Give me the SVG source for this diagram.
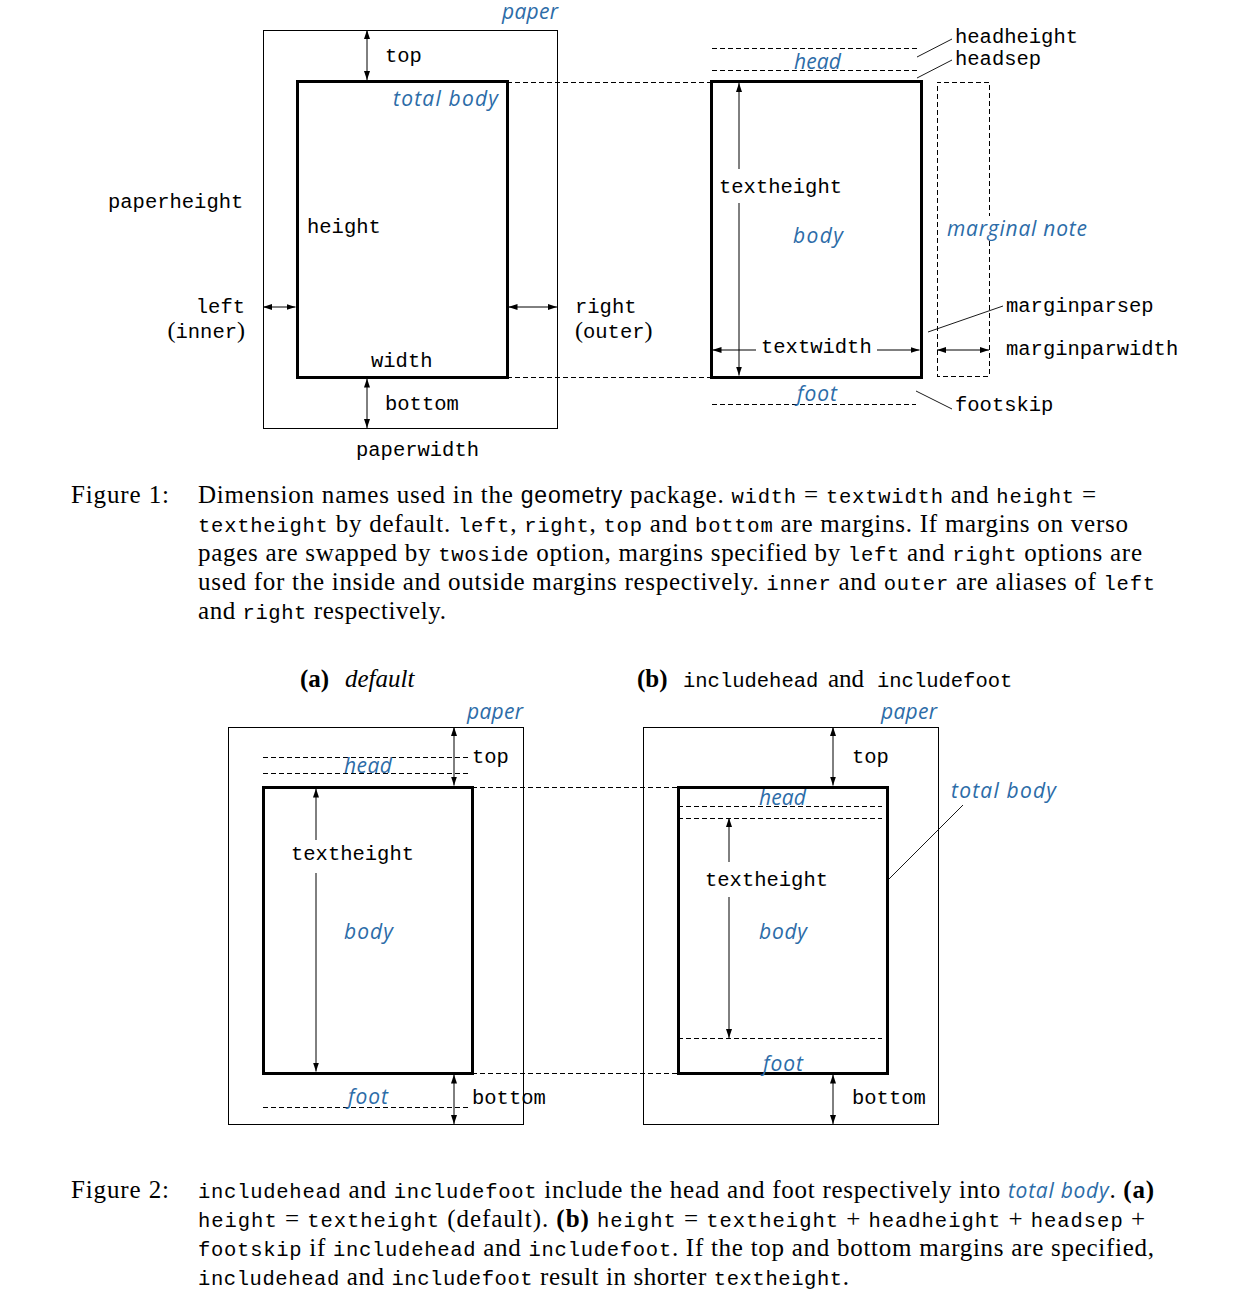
<svg xmlns="http://www.w3.org/2000/svg" width="1235" height="1294" viewBox="0 0 1235 1294">
<style>
.tt{font-family:"Liberation Mono","DejaVu Sans Mono",monospace;font-size:20.5px;fill:#000}
.sr{font-family:"Liberation Serif","DejaVu Serif",serif;font-size:25px;fill:#000}
.sl{font-family:"Liberation Serif","DejaVu Serif",serif;font-size:24px;fill:#000}
.sf{font-family:"Liberation Sans","DejaVu Sans",sans-serif;font-size:23px}
.bl{font-family:"Open Sans","DejaVu Sans",sans-serif;font-style:italic;font-size:21px;fill:#2c6ca8}
.thin{stroke:#000;stroke-width:1;fill:none;shape-rendering:crispEdges}
.thick{stroke:#000;stroke-width:3;fill:none;shape-rendering:crispEdges}
.dash{stroke:#000;stroke-width:1;stroke-dasharray:5 3;fill:none;shape-rendering:crispEdges}
.lead{stroke:#000;stroke-width:0.9;fill:none}
.a1{stroke:#000;stroke-width:1;fill:none;marker-end:url(#ah)}
.a2{stroke:#000;stroke-width:1;fill:none;marker-start:url(#ah);marker-end:url(#ah)}
</style>
<defs>
<marker id="ah" viewBox="0 0 9 6" refX="9" refY="3" markerWidth="9" markerHeight="6" markerUnits="userSpaceOnUse" orient="auto-start-reverse">
<path d="M0,0 L9,3 L0,6 Z" fill="#000"/>
</marker>
</defs>
<rect width="1235" height="1294" fill="#fff"/>

<!-- Figure 1 left -->
<g id="fig1-paper">
<rect class="thin" x="263" y="30" width="294" height="398"/>
<text class="bl" x="502" y="19" textLength="56">paper</text>
<text class="tt" x="108" y="208">paperheight</text>
<text class="tt" x="356" y="456">paperwidth</text>
</g>
<g id="fig1-totalbody">
<rect class="thick" x="297" y="81" width="210" height="296"/>
<text class="bl" x="393" y="106" textLength="105">total body</text>
<text class="tt" x="307" y="233">height</text>
<text class="tt" x="371" y="367">width</text>
</g>
<g id="fig1-margins">
<text class="tt" x="385" y="62">top</text>
<text class="tt" x="385" y="410">bottom</text>
<text class="tt" x="245" y="313" text-anchor="end">left</text>
<text class="sl" x="245" y="338" text-anchor="end">(<tspan class="tt">inner</tspan>)</text>
<text class="tt" x="575" y="313">right</text>
<text class="sl" x="575" y="338">(<tspan class="tt">outer</tspan>)</text>
</g>

<!-- Figure 1 right -->
<g id="fig1-body">
<rect class="thick" x="711" y="81" width="210" height="296"/>
<text class="bl" x="793" y="243" textLength="50">body</text>
<text class="tt" x="719" y="193">textheight</text>
<text class="tt" x="761" y="353">textwidth</text>
</g>
<g id="fig1-head">
<path class="dash" d="M712,48 H917 M712,70 H917"/>
<text class="bl" x="794" y="69" textLength="47">head</text>
<text class="tt" x="955" y="43">headheight</text>
<text class="tt" x="955" y="65">headsep</text>
</g>
<g id="fig1-foot">
<path class="dash" d="M712,404 H916"/>
<text class="bl" x="797" y="401" textLength="40">foot</text>
<text class="tt" x="955" y="411">footskip</text>
</g>
<g id="fig1-marginal">
<path class="dash" d="M989,241 V376 H937 V82 H989 V216"/>
<text class="bl" x="947" y="236" textLength="140">marginal note</text>
<text class="tt" x="1006" y="312">marginparsep</text>
<text class="tt" x="1006" y="355">marginparwidth</text>
</g>

<!-- Figure 2a -->
<g id="fig2a-label">
<text class="sr" x="300" y="687"><tspan font-weight="bold">(a)</tspan><tspan x="345" font-style="italic">default</tspan></text>
</g>
<g id="fig2a-paper">
<rect class="thin" x="228" y="727" width="295" height="397"/>
<text class="bl" x="467" y="719" textLength="56">paper</text>
<text class="tt" x="472" y="763">top</text>
<text class="tt" x="472" y="1104">bottom</text>
</g>
<g id="fig2a-body">
<rect class="thick" x="263" y="787" width="209" height="286"/>
<text class="bl" x="344" y="939" textLength="49">body</text>
<text class="tt" x="291" y="860">textheight</text>
</g>
<g id="fig2a-head">
<path class="dash" d="M263,757 H468 M263,773 H468"/>
<text class="bl" x="344" y="773" textLength="48">head</text>
</g>
<g id="fig2a-foot">
<path class="dash" d="M263,1107 H468"/>
<text class="bl" x="348" y="1104" textLength="40">foot</text>
</g>

<!-- Figure 2b -->
<g id="fig2b-label">
<text class="sr" x="637" y="687"><tspan font-weight="bold">(b)</tspan><tspan x="683" class="tt">includehead</tspan><tspan x="828">and</tspan><tspan x="877" class="tt">includefoot</tspan></text>
</g>
<g id="fig2b-paper">
<rect class="thin" x="643" y="727" width="295" height="397"/>
<text class="bl" x="881" y="719" textLength="56">paper</text>
<text class="tt" x="852" y="763">top</text>
<text class="tt" x="852" y="1104">bottom</text>
</g>
<g id="fig2b-totalbody">
<rect class="thick" x="678" y="787" width="209" height="286"/>
<text class="bl" x="951" y="798" textLength="105">total body</text>
</g>
<g id="fig2b-head">
<path class="dash" d="M678,806 H882 M678,818 H882"/>
<text class="bl" x="759" y="805" textLength="47">head</text>
</g>
<g id="fig2b-body">
<text class="bl" x="759" y="939" textLength="48">body</text>
<text class="tt" x="705" y="886">textheight</text>
</g>
<g id="fig2b-foot">
<path class="dash" d="M678,1038 H882"/>
<text class="bl" x="763" y="1071" textLength="40">foot</text>
</g>

<!-- Connectors -->
<g id="connectors">
<path class="dash" d="M507,82 H711 M507,377 H711"/>
<path class="dash" d="M472,787 H678 M472,1073 H678"/>
<path class="a2" d="M367,30 V80"/>
<path class="a2" d="M367,378.5 V428"/>
<path class="a2" d="M263,307 H295.5"/>
<path class="a2" d="M508.5,307 H557"/>
<path class="a1" d="M739,169 V83"/>
<path class="a1" d="M739,203 V375.5"/>
<path class="a1" d="M756,350 H712.5"/>
<path class="a1" d="M877,350 H919.5"/>
<path class="a2" d="M937,350 H989"/>
<path class="lead" d="M917,57 L952,39"/>
<path class="lead" d="M917,78 L952,60"/>
<path class="lead" d="M928,332 L1003,306"/>
<path class="lead" d="M916,391 L952,409"/>
<path class="a2" d="M454,727 V785.5"/>
<path class="a2" d="M454,1074.5 V1124"/>
<path class="a1" d="M316,840 V788.5"/>
<path class="a1" d="M316,873 V1071.5"/>
<path class="a2" d="M833,727 V785.5"/>
<path class="a2" d="M833,1074.5 V1124"/>
<path class="a1" d="M729,862 V818"/>
<path class="a1" d="M729,897 V1038"/>
<path class="lead" d="M963,805 L888,880"/>
</g>

<!-- Captions -->
<g id="caption1">
<text class="sr" x="71" y="503" textLength="98">Figure 1:</text>
<text class="sr" x="198" y="503" textLength="898">Dimension names used in the <tspan class="sf">geometry</tspan> package. <tspan class="tt">width</tspan> = <tspan class="tt">textwidth</tspan> and <tspan class="tt">height</tspan> =</text>
<text class="sr" x="198" y="532" textLength="930"><tspan class="tt">textheight</tspan> by default. <tspan class="tt">left</tspan>, <tspan class="tt">right</tspan>, <tspan class="tt">top</tspan> and <tspan class="tt">bottom</tspan> are margins. If margins on verso</text>
<text class="sr" x="198" y="561" textLength="944">pages are swapped by <tspan class="tt">twoside</tspan> option, margins specified by <tspan class="tt">left</tspan> and <tspan class="tt">right</tspan> options are</text>
<text class="sr" x="198" y="590" textLength="957">used for the inside and outside margins respectively. <tspan class="tt">inner</tspan> and <tspan class="tt">outer</tspan> are aliases of <tspan class="tt">left</tspan></text>
<text class="sr" x="198" y="619" textLength="248">and <tspan class="tt">right</tspan> respectively.</text>
</g>
<g id="caption2">
<text class="sr" x="71" y="1198" textLength="98">Figure 2:</text>
<text class="sr" x="198" y="1198" textLength="956"><tspan class="tt">includehead</tspan> and <tspan class="tt">includefoot</tspan> include the head and foot respectively into <tspan class="bl" font-size="22px">total body</tspan>. <tspan font-weight="bold">(a)</tspan></text>
<text class="sr" x="198" y="1227" textLength="947"><tspan class="tt">height</tspan> = <tspan class="tt">textheight</tspan> (default). <tspan font-weight="bold">(b)</tspan> <tspan class="tt">height</tspan> = <tspan class="tt">textheight</tspan> + <tspan class="tt">headheight</tspan> + <tspan class="tt">headsep</tspan> +</text>
<text class="sr" x="198" y="1256" textLength="956"><tspan class="tt">footskip</tspan> if <tspan class="tt">includehead</tspan> and <tspan class="tt">includefoot</tspan>. If the top and bottom margins are specified,</text>
<text class="sr" x="198" y="1285" textLength="651"><tspan class="tt">includehead</tspan> and <tspan class="tt">includefoot</tspan> result in shorter <tspan class="tt">textheight</tspan>.</text>
</g>
</svg>
